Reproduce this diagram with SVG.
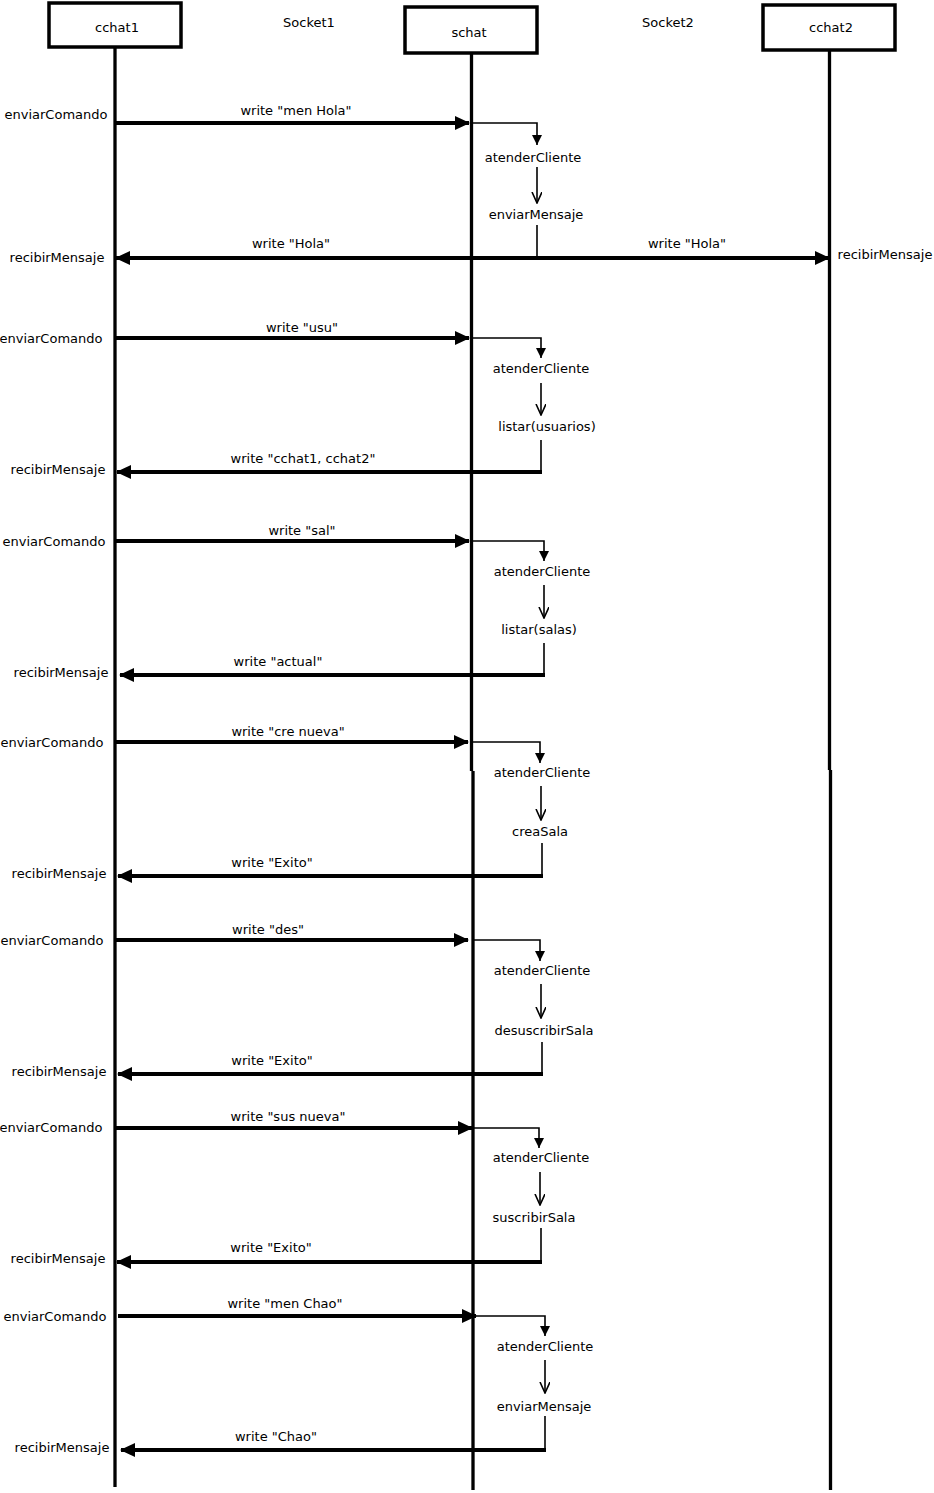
<svg xmlns="http://www.w3.org/2000/svg" width="934" height="1493" viewBox="0 0 934 1493">
<style>
text{font-family:"DejaVu Sans","Liberation Sans",sans-serif;font-size:13px;fill:#000}
.m{text-anchor:middle}
.box{fill:#fff;stroke:#000;stroke-width:3.5}
.life{stroke:#000;stroke-width:3.3;fill:none}
.msg{stroke:#000;stroke-width:3.8;fill:none;marker-end:url(#big)}
.thin{stroke:#000;stroke-width:1.6;fill:none}
.tf{stroke:#000;stroke-width:1.6;fill:none;marker-end:url(#sm)}
.to{stroke:#000;stroke-width:1.6;fill:none;marker-end:url(#open)}
</style>
<defs>
<marker id="big" markerUnits="userSpaceOnUse" markerWidth="15" markerHeight="14" refX="14" refY="7" orient="auto-start-reverse"><path d="M0,0 L15,7 L0,14 z" fill="#000"/></marker>
<marker id="sm" markerUnits="userSpaceOnUse" markerWidth="10" markerHeight="10" refX="10" refY="5" orient="auto"><path d="M0,0 L10,5 L0,10 z" fill="#000"/></marker>
<marker id="open" markerUnits="userSpaceOnUse" markerWidth="12" markerHeight="12" refX="11" refY="5" orient="auto"><path d="M0,0 L11,5 L0,10" fill="none" stroke="#000" stroke-width="1.6"/></marker>
</defs>
<rect width="934" height="1493" fill="#fff"/>

<g id="lifelines">
<path class="life" d="M115,47 V1487"/>
<path class="life" d="M471.5,53 V771 M473,771 V1490"/>
<path class="life" d="M829.5,50 V770 M830.5,770 V1490"/>
</g>

<g id="cchat1"><rect class="box" x="49" y="3" width="132" height="44"/><text class="m" x="117" y="32">cchat1</text></g>
<g id="schat"><rect class="box" x="405" y="7" width="132" height="46"/><text class="m" x="469" y="37">schat</text></g>
<g id="cchat2"><rect class="box" x="763" y="5" width="132" height="45"/><text class="m" x="831" y="32">cchat2</text></g>
<g id="socket1"><text class="m" x="309" y="27">Socket1</text></g>
<g id="socket2"><text class="m" x="668" y="27">Socket2</text></g>

<g id="connectors">
<!-- 1 -->
<path class="msg" d="M115,123 H469"/>
<path class="tf" d="M471,123 H537 V145"/>
<path class="to" d="M537,167 V203"/>
<path class="thin" d="M537,225 V258"/>
<path class="msg" style="marker-start:url(#big)" d="M116,258 H829"/>
<!-- 2 -->
<path class="msg" d="M115,338 H469"/>
<path class="tf" d="M471,338 H541 V358"/>
<path class="to" d="M541,383 V415"/>
<path class="thin" d="M541,440 V472"/>
<path class="msg" d="M542,472 H117"/>
<!-- 3 -->
<path class="msg" d="M115,541 H469"/>
<path class="tf" d="M471,541 H544 V561"/>
<path class="to" d="M544,585 V618"/>
<path class="thin" d="M544,643 V675"/>
<path class="msg" d="M545,675 H120"/>
<!-- 4 -->
<path class="msg" d="M115,742 H468"/>
<path class="tf" d="M471,742 H540 V763"/>
<path class="to" d="M541,786 V820"/>
<path class="thin" d="M542,843 V876"/>
<path class="msg" d="M543,876 H118"/>
<!-- 5 -->
<path class="msg" d="M115,940 H468"/>
<path class="tf" d="M473,940 H540 V961"/>
<path class="to" d="M541,984 V1018"/>
<path class="thin" d="M542,1042 V1074"/>
<path class="msg" d="M543,1074 H118"/>
<!-- 6 -->
<path class="msg" d="M115,1128 H472"/>
<path class="tf" d="M473,1128 H539 V1148"/>
<path class="to" d="M540,1172 V1205"/>
<path class="thin" d="M541,1228 V1262"/>
<path class="msg" d="M542,1262 H117"/>
<!-- 7 -->
<path class="msg" d="M118,1316 H476"/>
<path class="tf" d="M474,1316 H545 V1336"/>
<path class="to" d="M545,1360 V1393"/>
<path class="thin" d="M545,1416 V1450"/>
<path class="msg" d="M546,1450 H121"/>
</g>

<g id="labels">
<text class="m" x="56" y="119">enviarComando</text>
<text class="m" x="296" y="115">write "men Hola"</text>
<text class="m" x="533" y="162">atenderCliente</text>
<text class="m" x="536" y="219">enviarMensaje</text>
<text class="m" x="291" y="248">write "Hola"</text>
<text class="m" x="687" y="248">write "Hola"</text>
<text class="m" x="57" y="262">recibirMensaje</text>
<text class="m" x="885" y="259">recibirMensaje</text>

<text class="m" x="51" y="343">enviarComando</text>
<text class="m" x="302" y="332">write "usu"</text>
<text class="m" x="541" y="373">atenderCliente</text>
<text class="m" x="547" y="431">listar(usuarios)</text>
<text class="m" x="303" y="463">write "cchat1, cchat2"</text>
<text class="m" x="58" y="474">recibirMensaje</text>

<text class="m" x="54" y="546">enviarComando</text>
<text class="m" x="302" y="535">write "sal"</text>
<text class="m" x="542" y="576">atenderCliente</text>
<text class="m" x="539" y="634">listar(salas)</text>
<text class="m" x="278" y="666">write "actual"</text>
<text class="m" x="61" y="677">recibirMensaje</text>

<text class="m" x="52" y="747">enviarComando</text>
<text class="m" x="288" y="736">write "cre nueva"</text>
<text class="m" x="542" y="777">atenderCliente</text>
<text class="m" x="540" y="836">creaSala</text>
<text class="m" x="272" y="867">write "Exito"</text>
<text class="m" x="59" y="878">recibirMensaje</text>

<text class="m" x="52" y="945">enviarComando</text>
<text class="m" x="268" y="934">write "des"</text>
<text class="m" x="542" y="975">atenderCliente</text>
<text class="m" x="544" y="1035">desuscribirSala</text>
<text class="m" x="272" y="1065">write "Exito"</text>
<text class="m" x="59" y="1076">recibirMensaje</text>

<text class="m" x="51" y="1132">enviarComando</text>
<text class="m" x="288" y="1121">write "sus nueva"</text>
<text class="m" x="541" y="1162">atenderCliente</text>
<text class="m" x="534" y="1222">suscribirSala</text>
<text class="m" x="271" y="1252">write "Exito"</text>
<text class="m" x="58" y="1263">recibirMensaje</text>

<text class="m" x="55" y="1321">enviarComando</text>
<text class="m" x="285" y="1308">write "men Chao"</text>
<text class="m" x="545" y="1351">atenderCliente</text>
<text class="m" x="544" y="1411">enviarMensaje</text>
<text class="m" x="276" y="1441">write "Chao"</text>
<text class="m" x="62" y="1452">recibirMensaje</text>
</g>
</svg>
